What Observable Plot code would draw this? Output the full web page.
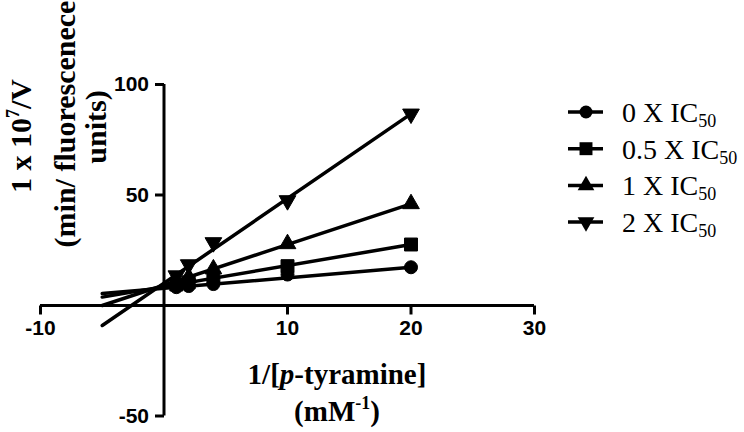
<!DOCTYPE html>
<html><head><meta charset="utf-8">
<script src="https://cdn.jsdelivr.net/npm/d3@7"></script>
<script src="https://cdn.jsdelivr.net/npm/@observablehq/plot@0.6"></script>
<style>html,body{margin:0;padding:0;background:#fff;} #chart{width:744px;height:432px;}</style>
</head><body><div id="chart"></div>
<script>
// ---- data ----
const xValues = [1, 2, 4, 10, 20];                 // 1/[p-tyramine] (mM^-1)
const seriesMultiples = ["0", "0.5", "1", "2"];     // x IC50
const y0x  = [8.3, 8.8, 9.7, 14.0, 17.3];
const y05x = [9.5, 10.5, 12.5, 17.8, 27.6];
const y1x  = [11.0, 12.8, 16.5, 27.9, 46.0];
const y2x  = [13.5, 18.5, 28.5, 47.5, 86.7];
const fitSlope     = [0.476, 0.952, 1.84, 3.83];
const fitIntercept = [7.78, 8.56, 9.2, 10.1];
const fitXRange = [-5, 20];
const xDomain = [-10, 30];
const yDomain = [-50, 100];
const xTickValues = [-10, 10, 20, 30];
const yTickValues = [-50, 50, 100];

// ---- build tables ----
const seriesValues = [y0x, y05x, y1x, y2x];
const points = seriesValues.flatMap((ys, s) => ys.map((y, i) => ({series: s, x: xValues[i], y})));
const fits = fitSlope.flatMap((b, s) => fitXRange.map(x => ({series: s, x, y: fitIntercept[s] + b * x})));

// ---- symbols ----
const triDown = {draw(ctx, size) {
  const y = -Math.sqrt(size / (Math.sqrt(3) * 3));
  ctx.moveTo(0, -2 * y); ctx.lineTo(-Math.sqrt(3) * y, y); ctx.lineTo(Math.sqrt(3) * y, y); ctx.closePath();
}};
const tickDown = {draw(ctx) { ctx.moveTo(0, 0); ctx.lineTo(0, 9); }};
const tickLeft = {draw(ctx) { ctx.moveTo(0, 0); ctx.lineTo(-9, 0); }};
const symbols = ["circle", "square", "triangle", triDown];
const symbolR = [6.5, 7.3, 6.2, 6.2];

const sans = "Liberation Sans, Arial, sans-serif";
const serif = "Liberation Serif, Times New Roman, serif";

const chart = Plot.plot({
  width: 744, height: 432,
  marginLeft: 40, marginRight: 210, marginTop: 84, marginBottom: 16.5,
  x: {domain: xDomain, axis: null},
  y: {domain: yDomain, axis: null},
  style: {background: "white", overflow: "visible"},
  marks: [
    Plot.ruleY([0], {x1: xDomain[0], x2: xDomain[1], stroke: "black", strokeWidth: 3}),
    Plot.ruleX([0], {y1: yDomain[0], y2: yDomain[1], stroke: "black", strokeWidth: 3}),
    Plot.dot(xTickValues, {x: d => d, y: () => 0, symbol: tickDown, stroke: "black", strokeWidth: 3, fill: "none"}),
    Plot.dot(yTickValues, {x: () => 0, y: d => d, symbol: tickLeft, stroke: "black", strokeWidth: 3, fill: "none"}),
    Plot.text(xTickValues, {x: d => d, y: () => 0, text: d => String(d), dy: 23, fontSize: 21, fontWeight: "bold", fontFamily: sans, fill: "black"}),
    Plot.text(yTickValues, {x: () => 0, y: d => d, text: d => String(d), dx: -15, textAnchor: "end", fontSize: 21, fontWeight: "bold", fontFamily: sans, fill: "black"}),
    Plot.line(fits, {x: "x", y: "y", z: "series", stroke: "black", strokeWidth: 3.5}),
    ...symbols.map((sym, s) => Plot.dot(points.filter(d => d.series === s), {x: "x", y: "y", symbol: sym, r: symbolR[s], fill: "black", stroke: "black", strokeWidth: 1}))
  ]
});
document.getElementById("chart").appendChild(chart);

// ---- titles and legend ----
const svg = d3.select(chart);
// x title
const xt = svg.append("text").attr("x", 337).attr("y", 384).attr("text-anchor", "middle")
  .attr("font-family", serif).attr("font-weight", "bold").attr("font-size", 29).attr("fill", "black");
xt.append("tspan").text("1/[");
xt.append("tspan").attr("font-style", "italic").text("p");
xt.append("tspan").text("-tyramine]");
const xt2 = svg.append("text").attr("x", 337).attr("y", 421).attr("text-anchor", "middle")
  .attr("font-family", serif).attr("font-weight", "bold").attr("font-size", 29).attr("fill", "black");
xt2.append("tspan").text("(mM");
xt2.append("tspan").attr("font-size", 18).attr("dy", -12).text("-1");
xt2.append("tspan").attr("dy", 12).text(")");

// y title (rotated)
function yLine(x, y, build) {
  const t = svg.append("text").attr("transform", `translate(${x},${y}) rotate(-90)`).attr("text-anchor", "middle")
    .attr("font-family", serif).attr("font-weight", "bold").attr("font-size", 30).attr("fill", "black");
  build(t);
}
yLine(31, 136, t => {
  t.append("tspan").text("1 x 10");
  t.append("tspan").attr("font-size", 18).attr("dy", -12).text("7");
  t.append("tspan").attr("dy", 12).text("/V");
});
yLine(75, 124, t => t.append("tspan").text("(min/ fluorescenece"));
yLine(106, 127, t => t.append("tspan").text("units)"));

// legend
const legendX = 568, legendY0 = 112, legendStep = 36.7;
seriesMultiples.forEach((m, s) => {
  const g = svg.append("g").attr("transform", `translate(${legendX},${legendY0 + s * legendStep})`);
  g.append("line").attr("x1", 0).attr("x2", 35).attr("y1", 0).attr("y2", 0).attr("stroke", "black").attr("stroke-width", 3.5);
  const symType = typeof symbols[s] === "string" ? {circle: d3.symbolCircle, square: d3.symbolSquare, triangle: d3.symbolTriangle}[symbols[s]] : symbols[s];
  g.append("path").attr("transform", "translate(18,0)").attr("d", d3.symbol(symType, symbolR[s] * symbolR[s] * Math.PI)()).attr("fill", "black");
  const t = g.append("text").attr("x", 54).attr("y", 10).attr("text-anchor", "start")
    .attr("font-family", serif).attr("font-size", 28).attr("fill", "black");
  t.append("tspan").text(`${m} X IC`);
  t.append("tspan").attr("font-size", 18).attr("dy", 5).text("50");
});
</script>
</body></html>
